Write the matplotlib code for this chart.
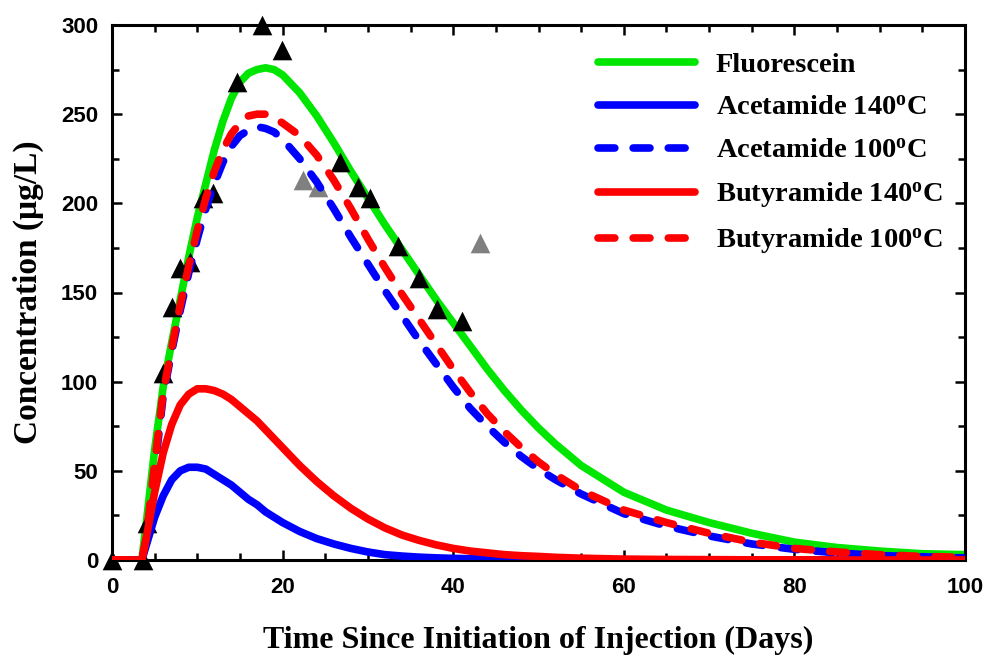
import numpy as np
import matplotlib
matplotlib.use("Agg")
import matplotlib.pyplot as plt
from matplotlib.ticker import MultipleLocator

# --- data ---
t_model = [0, 3.5, 4, 5, 6, 7, 8, 9, 10, 11, 12, 13, 14, 15, 16, 17, 18, 19, 20,
           22, 24, 26, 28, 30, 32, 34, 36, 38, 40, 42, 44, 46, 48, 50, 52, 55,
           60, 65, 70, 75, 80, 85, 90, 95, 100]

fluorescein = [0, 0, 20, 62, 97, 122, 146, 170, 192, 211, 230, 246, 259, 268, 273, 275, 276, 275, 272,
               262, 249, 234, 218, 203, 188, 174, 160, 146, 133, 120, 107, 95, 84, 74, 65, 53,
               38, 28, 21, 15, 10, 7, 5, 3.5, 3]
acet_140 = [0, 0, 8, 24, 36, 45, 50, 52, 52, 51, 48, 45, 42, 38, 34, 31, 27, 24, 21,
            16, 12, 9, 6.5, 4.5, 3, 2.2, 1.6, 1.2, 0.9, 0.7, 0.5, 0.4, 0.3, 0.2, 0.15, 0.1,
            0, 0, 0, 0, 0, 0, 0, 0, 0]
acet_100 = [0, 0, 10, 50, 92, 117, 140, 161, 180, 197, 211, 223, 232, 238, 241, 243, 242, 240, 236,
            225, 212, 197, 181, 166, 151, 137, 123, 110, 97, 85, 75, 66, 58, 51, 45, 37,
            26, 19, 13.5, 9, 6, 4, 2.5, 1.8, 1.2]
buty_140 = [0, 0, 12, 38, 60, 76, 87, 93, 96, 96, 95, 93, 90, 86, 82, 78, 73, 68, 63,
            53, 44, 36, 29, 23, 18, 14, 11, 8.5, 6.5, 5, 4, 3, 2.4, 2, 1.5, 1,
            0.5, 0.3, 0.2, 0.1, 0.1, 0, 0, 0, 0]
buty_100 = [0, 0, 12, 54, 94, 119, 143, 165, 185, 203, 218, 230, 239, 245, 249, 250, 250, 248, 245,
            238, 227, 213, 197, 180, 164, 149, 135, 121, 107, 94, 82, 72, 63, 55, 48, 39,
            28, 21, 15, 10, 6.5, 4.5, 3, 2, 1.5]

obs_t = [0, 3.6, 4.1, 6.0, 7.0, 8.0, 9.1, 10.7, 11.8, 14.6, 17.6, 19.9,
         26.7, 28.8, 30.2, 33.5, 36.0, 38.1, 41.0]
obs_c = [0, 0, 21, 105, 142, 164, 167, 203, 206, 268, 300, 286,
         223, 209, 203, 176, 158, 141, 134]
grey_t = [22.4, 24.2, 43.1]
grey_c = [213, 209, 178]

labels = ["Fluorescein", "Acetamide 140$^{\\mathrm{o}}$C", "Acetamide 100$^{\\mathrm{o}}$C",
          "Butyramide 140$^{\\mathrm{o}}$C", "Butyramide 100$^{\\mathrm{o}}$C"]

plt.rcParams["font.family"] = ["Liberation Serif", "DejaVu Serif"]
plt.rcParams["font.weight"] = "bold"
plt.rcParams["mathtext.fontset"] = "custom"
plt.rcParams["mathtext.rm"] = "Liberation Serif:bold"
plt.rcParams["mathtext.default"] = "rm"

fig = plt.figure(figsize=(9.88, 6.65), dpi=100)
ax = fig.add_axes([112 / 988, 1 - 560 / 665, 853 / 988, 535 / 665])

lw = 5.5
dash = (2.2, 2.4)
ax.plot(t_model, fluorescein, color="#00e600", lw=lw, solid_capstyle="round", zorder=2, label=labels[0])
ax.scatter(obs_t, obs_c, marker="^", s=200, color="black", zorder=3, clip_on=False, linewidths=0)
ax.scatter(grey_t, grey_c, marker="^", s=200, color="#808080", zorder=3, linewidths=0)
ax.plot(t_model, acet_140, color="#0000ff", lw=lw, solid_capstyle="round", zorder=4, label=labels[1])
ax.plot(t_model, acet_100, color="#0000ff", lw=lw, dashes=dash, dash_capstyle="round", zorder=4, label=labels[2])
ax.plot(t_model, buty_140, color="#ff0000", lw=lw, solid_capstyle="round", zorder=5, label=labels[3])
ax.plot(t_model, buty_100, color="#ff0000", lw=lw, dashes=dash, dash_capstyle="round", zorder=5, label=labels[4])

ax.set_xlim(0, 100)
ax.set_ylim(0, 300)
ax.xaxis.set_major_locator(MultipleLocator(20))
ax.xaxis.set_minor_locator(MultipleLocator(5))
ax.yaxis.set_major_locator(MultipleLocator(50))
ax.yaxis.set_minor_locator(MultipleLocator(25))
ax.tick_params(which="both", direction="in", top=True, right=True, width=1.8)
ax.tick_params(which="major", length=7)
ax.tick_params(which="minor", length=5)
ax.tick_params(axis="x", which="major", pad=12)
ax.tick_params(axis="y", which="major", pad=10)
for sp in ax.spines.values():
    sp.set_linewidth(2.2)

for lab in ax.get_xticklabels() + ax.get_yticklabels():
    lab.set_fontfamily("Liberation Sans")
    lab.set_fontweight("bold")
    lab.set_fontsize(16)

ax.set_xlabel("Time Since Initiation of Injection (Days)", fontsize=23, fontweight="bold", labelpad=20)
ax.set_ylabel("Concentration (\u03bcg/L)", fontsize=24, fontweight="bold", labelpad=12)

ax.legend(loc="upper left", bbox_to_anchor=(0.57, 0.95), frameon=False, fontsize=20.5,
          handlelength=3.4, handletextpad=0.72, labelspacing=0.6, borderpad=0, borderaxespad=0)

fig.savefig("out.png", dpi=100)
